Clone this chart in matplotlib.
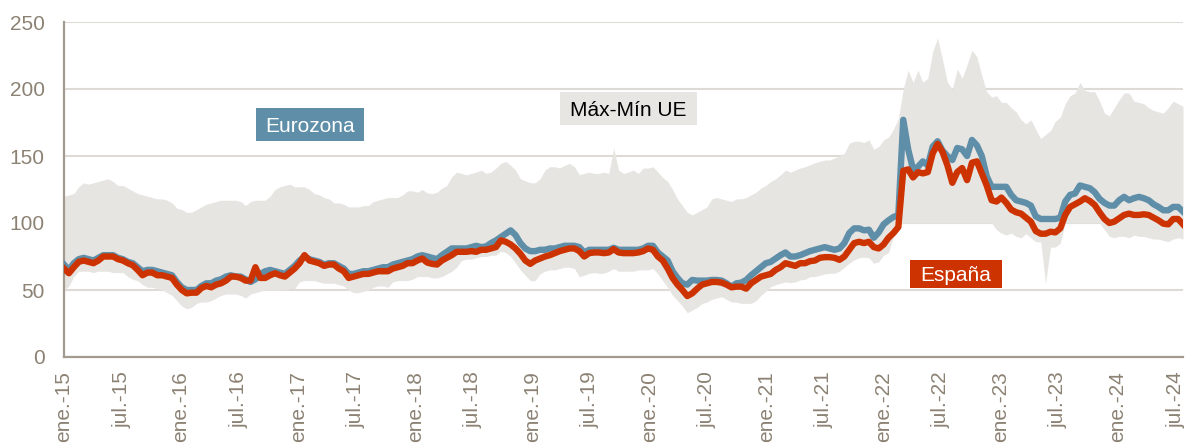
import matplotlib
matplotlib.use("Agg")
import matplotlib.pyplot as plt
from matplotlib.patches import Rectangle
import numpy as np
import pandas as pd

plt.rcParams['font.family'] = ['Liberation Sans', 'DejaVu Sans']

# Roughly semi-monthly observations, Jan 2015 - late Jul 2024
start, end = pd.Timestamp('2015-01-01'), pd.Timestamp('2024-07-24')

espana = (
    [66, 62.5, 67, 71, 72, 71, 70, 72, 75, 75, 75, 73, 72, 70, 68.5, 65, 61, 63, 63, 61, 61, 60, 59, 54]
    + [50, 47.5, 48, 48, 51.5, 53, 52, 54, 55, 57, 60, 60, 59, 57, 57, 67, 59, 59, 61, 62.5, 61, 60, 63, 66]
    + [70, 76, 72, 71, 70, 68, 69, 69, 66, 64, 59, 60, 61, 62, 62, 63, 64, 64, 64, 66, 67, 68, 70, 70]
    + [72, 73.5, 70.5, 69.5, 69, 72, 74, 76, 78.5, 78.5, 78.5, 79, 78.5, 80, 80, 81, 82, 87, 86, 84, 81, 77, 72, 69.5]
    + [72, 73.5, 75, 76, 77.5, 79, 80, 81, 81, 79, 75, 77.5, 78, 78, 77.5, 78, 80.5, 78, 77.5, 77.5, 77.5, 78, 79, 81]
    + [80, 75, 72, 66, 59, 54, 50, 45.5, 47.5, 51, 54, 55, 56, 56, 55.5, 54, 52, 52.5, 52.5, 51, 55, 57.5, 60, 61]
    + [62, 65, 67, 70, 69, 68, 70, 70, 71.5, 72, 74, 74.5, 74.5, 74, 72.5, 75, 80, 85, 86, 85, 86, 82, 81, 84]
    + [89, 92.5, 97, 139, 140, 134, 138, 137, 138, 152, 159, 153, 143, 130, 138, 141, 132, 145, 146, 137, 128, 117, 116, 119]
    + [115, 110, 108, 107, 104, 101, 94, 92, 92, 93.5, 93, 96, 106, 112, 114, 116, 118.5, 116.5, 113.5, 108, 103, 100, 101, 103.5]
    + [106, 107, 106, 106, 106.5, 106, 104, 102, 99.5, 99, 103, 103, 99]
)

eurozona = (
    [69, 65, 70, 73, 74, 73, 72, 74, 76, 76, 76, 74, 73, 71, 70, 67, 64, 65, 65, 64, 63, 62, 61, 56]
    + [52, 50, 50, 50, 53, 55, 55, 57, 58, 60, 61, 60, 60, 58, 56, 58, 62, 64, 65, 64, 63, 62, 65, 68]
    + [72, 75, 73, 72, 71, 69, 70, 70, 68, 66, 62, 62, 63, 64, 64, 65, 66, 67, 67, 69, 70, 71, 72, 73]
    + [75, 76, 75, 74, 73, 76, 78.5, 81, 81, 81, 81, 82, 83, 82, 82.5, 85, 87, 89.5, 92, 94.5, 91, 85, 81, 79]
    + [79, 80, 80, 81, 81, 82, 83, 83, 83, 82, 78, 80, 80, 80, 80, 80, 81.5, 80, 80, 80, 80, 80, 81, 83]
    + [83, 78, 75, 72, 64, 59, 55, 54, 57.5, 57, 57, 57, 57.5, 57.5, 57, 55, 52.5, 55, 55.5, 57.5, 61, 64, 67, 70]
    + [71, 73.5, 76, 78, 75, 75, 76, 77.5, 79, 80, 81, 82, 81, 80, 81, 85, 92.5, 96, 96, 94.5, 95, 89, 93, 99]
    + [102, 104.5, 106, 177, 155, 140, 142, 146, 143, 157, 161, 154, 150, 147, 156, 155, 150, 162, 158, 150, 135, 127, 127, 127]
    + [127, 121, 117, 116, 115, 113, 105, 103, 103, 103, 103, 104, 116, 121, 122, 128, 127, 126, 123, 118, 115, 113, 113, 117]
    + [119.5, 117, 118.5, 119.5, 118.5, 117, 114, 112, 109.5, 109.5, 112, 112, 108.5]
)

ue_max = (
    [120, 121, 122, 127, 130, 129, 130, 131, 132, 133, 131, 128, 128, 126, 124, 122, 121, 120, 119, 118, 118, 117, 115, 111]
    + [110, 108, 108, 110, 112, 114, 115, 116, 117, 117, 117, 117, 116, 113, 116, 117, 117, 117, 120, 125, 127, 128, 129, 127]
    + [127, 127, 125, 122, 121, 119, 118, 115, 115, 114, 112, 112, 112, 113, 113, 116, 117, 118, 119, 119, 119, 121, 124, 124]
    + [123, 125, 122.5, 122, 123, 126, 128, 134.5, 138, 137, 136, 137, 138, 139.5, 137, 138, 141, 144.5, 146, 143, 139.5, 133, 131.5, 130]
    + [130, 133, 139.5, 142, 142, 141, 143, 144.5, 142, 136, 137, 138, 137, 137, 138, 137, 156, 139.5, 137, 138, 139.5, 137, 141, 141]
    + [142, 138, 134, 131, 125, 118, 113, 108, 106, 108, 110, 112, 118, 119, 118, 117, 116, 118, 118, 119, 121, 123, 126, 128]
    + [131, 133, 136, 139.5, 138, 139.5, 141, 142, 143.5, 145, 146, 147, 147, 148.5, 150, 152, 159.5, 161, 161, 160, 162, 155, 157, 162]
    + [164, 170, 178, 200, 214, 205, 214, 205, 208, 228, 238, 222, 205, 200, 215, 208, 218, 229, 224, 210, 198, 194, 195, 190]
    + [190, 186, 183, 177, 174, 177, 170, 163, 166, 169, 176, 179, 189, 195, 197, 205, 199, 198, 198, 191, 182, 180, 186, 192]
    + [197, 197, 191, 190, 189, 186, 184, 183, 182, 186, 191, 189, 187]
)

ue_min = (
    [50, 53, 60, 64, 64, 64, 63, 64, 64, 64, 63, 63, 63, 60, 58, 57, 54, 52, 52, 51, 50, 48, 46, 42]
    + [38, 36, 37, 40, 41, 41, 42, 44, 46, 47, 47, 47, 46, 44, 47, 48, 49, 50, 50, 50, 50, 50, 51, 51]
    + [56, 57, 57, 57, 56, 55, 55, 55, 54, 53, 50, 48, 48, 49, 50, 52, 53, 53, 52, 56, 57, 57, 57, 58]
    + [60, 60, 60, 59, 59, 60, 62, 64, 67, 72, 73, 73, 74, 75, 75, 76, 76, 79, 78, 75, 70, 65, 61, 57]
    + [57, 62, 64, 65, 65, 66, 67, 67, 66, 60, 61, 62.5, 63, 62.5, 62.5, 64, 66, 64, 64, 64, 64, 65, 65, 65]
    + [66, 62, 57, 52, 46, 42, 38, 33, 35, 37, 40, 41, 43, 44, 45, 43, 41, 41, 40, 40, 40, 42, 46, 49]
    + [52.5, 54, 55, 56, 55.5, 56, 57.5, 58, 60, 60, 61, 62, 62.5, 62.5, 64, 67, 70, 72.5, 74, 74.5, 74, 70, 71, 76]
    + [78, 90, 98, 100, 100, 100, 100, 100, 100, 100, 100, 100, 100, 100, 100, 100, 100, 100, 100, 100, 100, 100, 95, 92.5]
    + [91, 92.5, 90, 89, 92, 89, 86, 86, 55, 82, 82, 85, 100, 100, 100, 100, 100, 100, 100, 100, 95, 90, 89, 90]
    + [90, 89, 91, 90, 90, 89, 88, 88, 87, 86, 88, 89, 88]
)

dates = pd.date_range(start, end, periods=len(espana))

tick_dates = pd.date_range('2015-01-01', '2024-07-01', freq='6MS')
tick_labels = [('ene.-' if d.month == 1 else 'jul.-') + d.strftime('%y') for d in tick_dates]

band_color = '#e7e5e2'
blue = '#5f8ea8'
red = '#cc3300'
axis_color = '#a39b8f'
label_color = '#8c8274'

fig = plt.figure(figsize=(11.87, 4.43), dpi=100)
ax = fig.add_axes([64 / 1187, 1 - 357 / 443, 1119 / 1187, 335 / 443])

ax.fill_between(dates, ue_min, ue_max, color=band_color, linewidth=0, zorder=1)
ax.plot(dates, eurozona, color=blue, linewidth=4.6, solid_joinstyle='round', zorder=3)
ax.plot(dates, espana, color=red, linewidth=4.6, solid_joinstyle='round', zorder=4)

ax.set_ylim(0, 250)
ax.set_yticks([0, 50, 100, 150, 200, 250])
ax.set_xlim(start, end)
ax.set_xticks(tick_dates)
ax.set_xticklabels(tick_labels, rotation=90, ha='center', va='top')

ax.grid(axis='y', color='#dedbd6', linewidth=1.5, zorder=0)
ax.set_axisbelow(True)
for s in ['top', 'right']:
    ax.spines[s].set_visible(False)
for s in ['left', 'bottom']:
    ax.spines[s].set_color(axis_color)
    ax.spines[s].set_linewidth(1.6)
ax.tick_params(axis='both', length=0, labelsize=15, labelcolor=label_color)
ax.tick_params(axis='y', pad=14)
ax.tick_params(axis='x', pad=10)

# Series labels as filled boxes
def box_label(x0, y0, w, h, text, face, tcolor):
    ax.add_patch(Rectangle((x0, y0), w, h, transform=ax.transAxes,
                           facecolor=face, edgecolor='none', zorder=5))
    ax.text(x0 + w / 2, y0 + h / 2, text, transform=ax.transAxes,
            ha='center', va='center_baseline', fontsize=15, color=tcolor, zorder=6)

box_label(0.1716, 0.6448, 0.0965, 0.0985, 'Eurozona', blue, 'white')
box_label(0.4433, 0.6925, 0.1224, 0.0985, 'Máx-Mín UE', '#e8e6e3', 'black')
box_label(0.7560, 0.2060, 0.0822, 0.0836, 'España', red, 'white')

fig.savefig('out.png', dpi=100)
